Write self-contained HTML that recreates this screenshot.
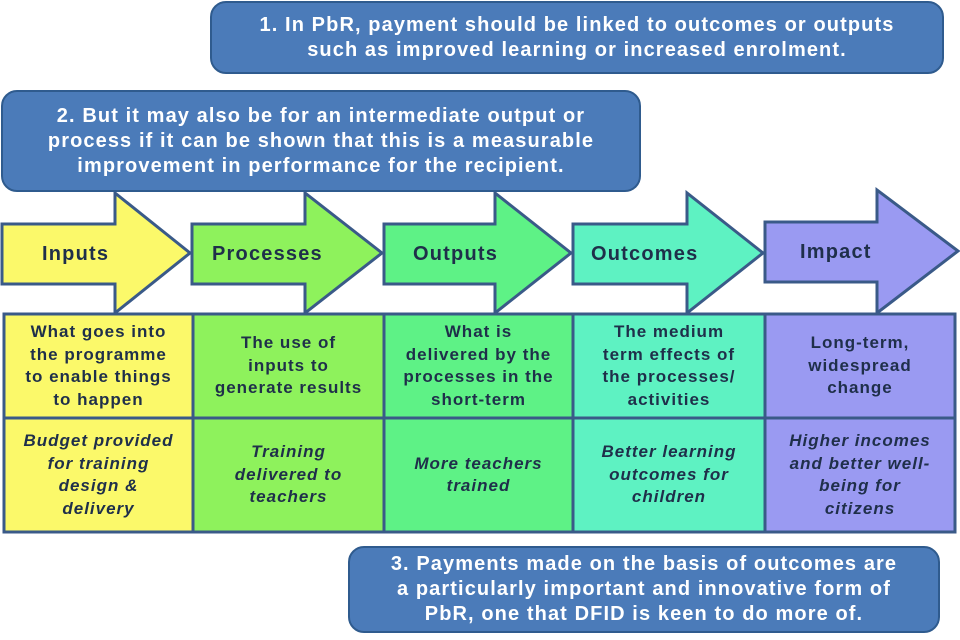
<!DOCTYPE html>
<html><head><style>
body{margin:0;width:960px;height:640px;background:#fff;position:relative;overflow:hidden;font-family:"Liberation Sans",sans-serif;}
.call{position:absolute;background:#4b7bb9;border:2px solid #2f5b8e;border-radius:16px;color:#fff;font-weight:bold;text-align:center;box-sizing:border-box;display:flex;align-items:center;justify-content:center;font-size:20px;line-height:25px;letter-spacing:1.1px;white-space:nowrap;}
.lbl{position:absolute;font-weight:bold;font-size:20px;color:#1f2f4a;letter-spacing:1.2px;}
.cell{position:absolute;box-sizing:border-box;display:flex;align-items:center;justify-content:center;text-align:center;font-weight:bold;font-size:17px;line-height:22.5px;color:#1f2f4a;letter-spacing:1px;white-space:nowrap;}
.it{font-style:italic;}
</style></head><body>
<svg width="960" height="640" style="position:absolute;left:0;top:0">
<g stroke="#3a5a88" stroke-width="3" stroke-linejoin="miter">
<polygon points="2,224 115,224 115,193 190,253 115,313 115,284 2,284" fill="#fbf96a"/>
<polygon points="192,224 305,224 305,193 382,253 305,313 305,284 192,284" fill="#8ef25c"/>
<polygon points="384,224 495,224 495,193 571,253 495,313 495,284 384,284" fill="#5ef286"/>
<polygon points="573,224 687,224 687,193 763,253 687,313 687,284 573,284" fill="#5ef2c2"/>
<polygon points="765,222 877,222 877,190 958,251 877,313 877,282 765,282" fill="#9a9af2"/>
</g>
<g stroke="#3a5a88" stroke-width="3">
<rect x="4" y="314" width="189" height="104" fill="#fbf96a"/>
<rect x="193" y="314" width="191" height="104" fill="#8ef25c"/>
<rect x="384" y="314" width="189" height="104" fill="#5ef286"/>
<rect x="573" y="314" width="192" height="104" fill="#5ef2c2"/>
<rect x="765" y="314" width="190" height="104" fill="#9a9af2"/>
<rect x="4" y="418" width="189" height="114" fill="#fbf96a"/>
<rect x="193" y="418" width="191" height="114" fill="#8ef25c"/>
<rect x="384" y="418" width="189" height="114" fill="#5ef286"/>
<rect x="573" y="418" width="192" height="114" fill="#5ef2c2"/>
<rect x="765" y="418" width="190" height="114" fill="#9a9af2"/>
</g>
</svg>
<div class="call" style="left:210px;top:1px;width:734px;height:73px;">1. In PbR, payment should be linked to outcomes or outputs<br>such as improved learning or increased enrolment.</div>
<div class="call" style="left:1px;top:90px;width:640px;height:102px;">2. But it may also be for an intermediate output or<br>process if it can be shown that this is a measurable<br>improvement in performance for the recipient.</div>
<div class="call" style="left:348px;top:546px;width:592px;height:87px;">3. Payments made on the basis of outcomes are<br>a particularly important and innovative form of<br>PbR, one that DFID is keen to do more of.</div>
<div class="lbl" style="left:42px;top:243px;">Inputs</div>
<div class="lbl" style="left:212px;top:243px;">Processes</div>
<div class="lbl" style="left:413px;top:243px;">Outputs</div>
<div class="lbl" style="left:591px;top:243px;">Outcomes</div>
<div class="lbl" style="left:800px;top:241px;">Impact</div>
<div class="cell" style="left:4px;top:314px;width:189px;height:104px;">What goes into<br>the programme<br>to enable things<br>to happen</div>
<div class="cell" style="left:193px;top:314px;width:191px;height:104px;">The use of<br>inputs to<br>generate results</div>
<div class="cell" style="left:384px;top:314px;width:189px;height:104px;">What is<br>delivered by the<br>processes in the<br>short-term</div>
<div class="cell" style="left:573px;top:314px;width:192px;height:104px;">The medium<br>term effects of<br>the processes/<br>activities</div>
<div class="cell" style="left:765px;top:314px;width:190px;height:104px;">Long-term,<br>widespread<br>change</div>
<div class="cell it" style="left:4px;top:418px;width:189px;height:114px;">Budget provided<br>for training<br>design &amp;<br>delivery</div>
<div class="cell it" style="left:193px;top:418px;width:191px;height:114px;">Training<br>delivered to<br>teachers</div>
<div class="cell it" style="left:384px;top:418px;width:189px;height:114px;">More teachers<br>trained</div>
<div class="cell it" style="left:573px;top:418px;width:192px;height:114px;">Better learning<br>outcomes for<br>children</div>
<div class="cell it" style="left:765px;top:418px;width:190px;height:114px;">Higher incomes<br>and better well-<br>being for<br>citizens</div>
</body></html>
